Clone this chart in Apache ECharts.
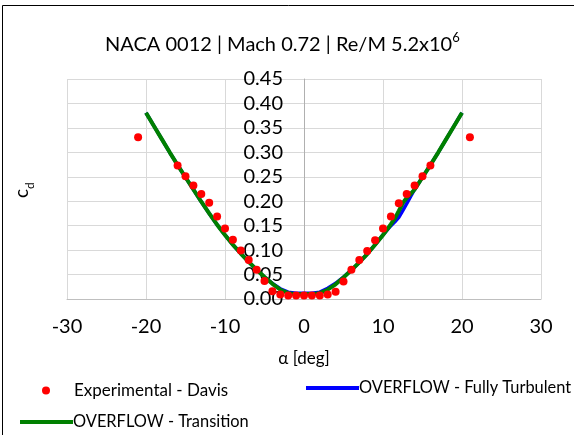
<!DOCTYPE html>
<html>
<head>
<meta charset="utf-8">
<script src="https://cdn.jsdelivr.net/npm/echarts@6/dist/echarts.min.js"></script>
<style>html,body{margin:0;padding:0;background:#fff}#c{width:574px;height:435px}</style>
</head>
<body>
<div id="c"></div>
<script>
// Experimental - Davis
const expAlpha = [-21,-16,-15,-14,-13,-12,-11,-10,-9,-8,-7,-6,-5,-4,-3,-2,-1,0,1,2,3,4,5,6,7,8,9,10,11,12,13,14,15,16,21];
const expCd    = [0.331,0.273,0.251,0.232,0.215,0.197,0.169,0.144,0.121,0.099,0.080,0.060,0.037,0.016,0.009,0.007,0.007,0.007,0.007,0.007,0.009,0.015,0.036,0.060,0.080,0.098,0.120,0.144,0.169,0.196,0.215,0.232,0.251,0.273,0.331];

// OVERFLOW - Transition
const transAlpha = [-20,-19,-18,-17,-16,-15,-14,-13,-12,-11,-10,-9,-8,-7,-6,-5,-4,-3,-2,-1,0,1,2,3,4,5,6,7,8,9,10,11,11.5,12,12.5,13,13.5,14,15,16,17,18,19,20];
const transCd    = [0.381,0.354,0.327,0.300,0.274,0.249,0.224,0.199,0.175,0.152,0.131,0.111,0.093,0.076,0.060,0.045,0.031,0.019,0.012,0.010,0.010,0.010,0.012,0.019,0.030,0.044,0.059,0.075,0.092,0.111,0.131,0.153,0.165,0.180,0.196,0.207,0.215,0.224,0.249,0.274,0.300,0.327,0.354,0.381];

// OVERFLOW - Fully Turbulent
const turbAlpha = [-20,-19,-18,-17,-16,-15,-14,-13,-12,-11,-10,-9,-8,-7,-6,-5,-4,-3,-2,-1,0,1,2,3,4,5,6,7,8,9,10,11,11.5,12,12.5,13,13.5,14,15,16,17,18,19,20];
const turbCd    = [0.381,0.354,0.327,0.300,0.274,0.249,0.224,0.199,0.175,0.152,0.131,0.111,0.093,0.076,0.060,0.045,0.032,0.021,0.014,0.012,0.012,0.012,0.014,0.022,0.032,0.045,0.059,0.075,0.092,0.111,0.131,0.150,0.158,0.167,0.181,0.195,0.210,0.224,0.249,0.274,0.300,0.327,0.354,0.381];

const xTicks = [-30,-20,-10,0,10,20,30];
const yTicks = [0,0.05,0.10,0.15,0.20,0.25,0.30,0.35,0.40,0.45];

const FONT = 'Lato';
const zip = (a, b) => a.map((v, i) => [v, b[i]]);

const chart = echarts.init(document.getElementById('c'), null, {renderer: 'canvas'});
chart.setOption({
  animation: false,
  backgroundColor: '#fff',
  textStyle: {fontFamily: FONT},
  title: {
    left: 100, top: 24,
    text: '{a|NACA 0012 | Mach 0.72 | Re/M 5.2x10}{s|6}',
    textStyle: {
      fontWeight: 'normal',
      rich: {
        a: {fontFamily: FONT, fontSize: 20, fontWeight: 'normal', color: '#000', lineHeight: 26, verticalAlign: 'bottom'},
        s: {fontFamily: FONT, fontSize: 13, fontWeight: 'normal', color: '#000', lineHeight: 26, verticalAlign: 'top', padding: [2,0,0,0]}
      }
    }
  },
  grid: {left: 67, top: 79, width: 474, height: 220, containLabel: false},
  xAxis: {
    type: 'value', min: xTicks[0], max: xTicks[xTicks.length-1], interval: 10,
    axisLine: {onZero: true, lineStyle: {color: '#bfbfbf', width: 1}},
    axisTick: {show: false},
    axisLabel: {color: '#000', fontSize: 20, fontFamily: FONT, margin: 18},
    splitLine: {show: true, lineStyle: {color: '#d9d9d9', width: 1}},
    name: 'α [deg]', nameLocation: 'middle', nameGap: 51,
    nameTextStyle: {color: '#000', fontSize: 17, fontFamily: FONT}
  },
  yAxis: {
    type: 'value', min: yTicks[0], max: yTicks[yTicks.length-1], interval: 0.05,
    offset: -237,
    axisLine: {show: true, onZero: false, lineStyle: {color: '#b0b0b0', width: 1}},
    axisTick: {show: false},
    axisLabel: {color: '#000', fontSize: 20, fontFamily: FONT, margin: 21, formatter: v => v.toFixed(2)},
    splitLine: {show: true, lineStyle: {color: '#d9d9d9', width: 1}}
  },
  legend: [
    {left: 37, top: 377, itemWidth: 8, itemHeight: 8, data: [{name: 'Experimental - Davis', icon: 'circle'}],
     textStyle: {color: '#000', fontSize: 17, fontFamily: FONT, padding: [0,0,0,19]}},
    {left: 301, top: 375, itemWidth: 53, itemHeight: 4, data: [{name: 'OVERFLOW - Fully Turbulent', icon: 'rect'}],
     textStyle: {color: '#000', fontSize: 16.4, fontFamily: FONT, padding: [0,0,0,-5]}},
    {left: 15, top: 409, itemWidth: 53, itemHeight: 4, data: [{name: 'OVERFLOW - Transition', icon: 'rect'}],
     textStyle: {color: '#000', fontSize: 16.4, fontFamily: FONT, padding: [0,0,0,-5]}}
  ],
  graphic: [
    {type: 'rect', shape: {x: 2.5, y: 5.5, width: 700, height: 700}, style: {fill: 'none', stroke: '#000', lineWidth: 1}, silent: true, z: 100},
    {type: 'text', x: 12, y: 198, rotation: Math.PI/2,
     style: {text: '{c|c}{d|d}', fill: '#000',
       rich: {c: {fontFamily: FONT, fontSize: 19, color: '#000', lineHeight: 24, verticalAlign: 'top'},
              d: {fontFamily: FONT, fontSize: 12, color: '#000', lineHeight: 24, verticalAlign: 'bottom'}}}}
  ],
  series: [
    {name: 'OVERFLOW - Fully Turbulent', type: 'line', data: zip(turbAlpha, turbCd), showSymbol: false, symbol: 'none',
     lineStyle: {color: '#0000ff', width: 3.5}, itemStyle: {color: '#0000ff'}, z: 2},
    {name: 'OVERFLOW - Transition', type: 'line', data: zip(transAlpha, transCd), showSymbol: false, symbol: 'none',
     lineStyle: {color: '#008000', width: 4}, itemStyle: {color: '#008000'}, z: 3},
    {name: 'Experimental - Davis', type: 'scatter', data: zip(expAlpha, expCd), symbol: 'circle', symbolSize: 8,
     itemStyle: {color: '#ff0000', opacity: 1}, z: 4}
  ]
});
</script>
</body>
</html>
